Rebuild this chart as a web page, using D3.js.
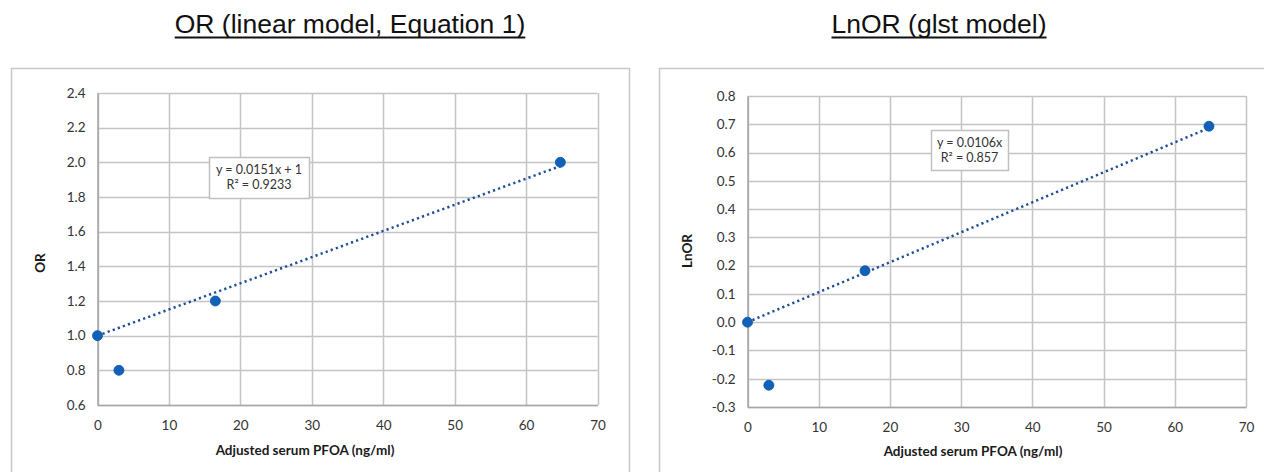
<!DOCTYPE html>
<html>
<head>
<meta charset="utf-8">
<script src="https://cdn.jsdelivr.net/npm/d3@7"></script>
<style>
  html, body { margin: 0; padding: 0; background: #ffffff; }
  svg { display: block; }
</style>
</head>
<body>
<svg id="chart" width="1264" height="472"></svg>
<script>
// ---------- data ----------
const pfoa = [0, 3.0, 16.5, 64.8];
const orValues = [1.0, 0.8, 1.2, 2.0];
const lnorValues = [0.0, -0.223, 0.182, 0.693];

const xTicks = [0, 10, 20, 30, 40, 50, 60, 70];
const orTicks = [0.6, 0.8, 1.0, 1.2, 1.4, 1.6, 1.8, 2.0, 2.2, 2.4];
const lnorTicks = [-0.3, -0.2, -0.1, 0.0, 0.1, 0.2, 0.3, 0.4, 0.5, 0.6, 0.7, 0.8];

const orFit = { slope: 0.0151, intercept: 1 };
const lnorFit = { slope: 0.0106, intercept: 0 };

const titles = ["OR (linear model, Equation 1)", "LnOR (glst model)"];
const yLabels = ["OR", "LnOR"];
const xLabel = "Adjusted serum PFOA (ng/ml)";
const eqTexts = [["y = 0.0151x + 1", "R² = 0.9233"], ["y = 0.0106x", "R² = 0.857"]];

// ---------- drawing ----------
const svg = d3.select("#chart");
const tickFont = "Lato, 'Open Sans', sans-serif";

function drawPanel(cfg) {
  const g = svg.append("g");
  // outer frame
  g.append("rect")
    .attr("x", cfg.frame[0] + 0.5).attr("y", cfg.frame[1] + 0.5)
    .attr("width", cfg.frame[2]).attr("height", cfg.frame[3])
    .attr("fill", "#fff").attr("stroke", "#c8c8c8").attr("stroke-width", 1.5);

  // title
  const t = g.append("text")
    .attr("x", cfg.titleX).attr("y", 33)
    .attr("text-anchor", "middle")
    .attr("font-family", "'Liberation Sans', Arial, sans-serif")
    .attr("font-size", 26.5).attr("fill", "#111")
    .text(cfg.title);
  const bb = t.node().getBBox();
  g.append("line")
    .attr("x1", bb.x).attr("x2", bb.x + bb.width)
    .attr("y1", 37.5).attr("y2", 37.5)
    .attr("stroke", "#111").attr("stroke-width", 2);

  const x = d3.scaleLinear().domain([0, 70]).range([cfg.plot.left, cfg.plot.right]);
  const y = d3.scaleLinear().domain(cfg.yDomain).range([cfg.plot.bottom, cfg.plot.top]);

  // gridlines
  g.append("g").selectAll("line").data(cfg.yTicks).join("line")
    .attr("x1", x(0)).attr("x2", x(70))
    .attr("y1", d => Math.round(y(d)) + 0.5).attr("y2", d => Math.round(y(d)) + 0.5)
    .attr("stroke", "#c4c4c4").attr("stroke-width", 1.5);
  g.append("g").selectAll("line").data(xTicks).join("line")
    .attr("y1", y(cfg.yDomain[0])).attr("y2", y(cfg.yDomain[1]))
    .attr("x1", d => Math.round(x(d)) + 0.5).attr("x2", d => Math.round(x(d)) + 0.5)
    .attr("stroke", "#c4c4c4").attr("stroke-width", 1.5);

  // axes
  const xAxis = d3.axisBottom(x).tickValues(xTicks).tickSize(0).tickPadding(15).tickFormat(d3.format("d"));
  const gx = g.append("g").attr("transform", `translate(0,${y(cfg.yDomain[0])})`).call(xAxis);
  gx.select(".domain").attr("stroke", "#a6a6a6").attr("stroke-width", 1.5);
  gx.selectAll("text").attr("font-family", tickFont).attr("font-size", 13.5).attr("fill", "#333");

  const yAxis = d3.axisLeft(y).tickValues(cfg.yTicks).tickSize(0).tickPadding(12).tickFormat(d3.format(".1f"));
  const gy = g.append("g").attr("transform", `translate(${x(0)},0)`).call(yAxis);
  gy.select(".domain").attr("stroke", "#a6a6a6").attr("stroke-width", 1.5);
  gy.selectAll("text").attr("font-family", tickFont).attr("font-size", 13.5).attr("fill", "#333")
    .text(d => d3.format(".1f")(d).replace("−", "-"));

  // axis titles
  g.append("text")
    .attr("x", cfg.xLabelX).attr("y", cfg.xLabelY)
    .attr("text-anchor", "middle")
    .attr("font-family", tickFont).attr("font-weight", "bold")
    .attr("font-size", 13.5).attr("fill", "#1a1a1a")
    .text(xLabel);
  g.append("text")
    .attr("transform", `translate(${cfg.yLabelX},${cfg.yLabelY}) rotate(-90)`)
    .attr("text-anchor", "middle")
    .attr("font-family", tickFont).attr("font-weight", "bold")
    .attr("font-size", 13.5).attr("fill", "#1a1a1a")
    .text(cfg.yLabel);

  // trendline
  const xs = [0, d3.max(pfoa)];
  g.append("line")
    .attr("x1", x(xs[0])).attr("y1", y(cfg.fit.intercept + cfg.fit.slope * xs[0]))
    .attr("x2", x(xs[1])).attr("y2", y(cfg.fit.intercept + cfg.fit.slope * xs[1]))
    .attr("stroke", "#1f4e99").attr("stroke-width", 2.5)
    .attr("stroke-dasharray", "2.2,3.2");

  // points
  g.append("g").selectAll("circle").data(pfoa.map((v, i) => [v, cfg.values[i]])).join("circle")
    .attr("cx", d => x(d[0])).attr("cy", d => y(d[1])).attr("r", 5)
    .attr("fill", "#1261b8").attr("stroke", "#0b57a8").attr("stroke-width", 0.8);

  // equation box
  const b = cfg.eqBox;
  g.append("rect")
    .attr("x", b[0] + 0.5).attr("y", b[1] + 0.5).attr("width", b[2]).attr("height", b[3])
    .attr("fill", "#fff").attr("stroke", "#c0c0c0").attr("stroke-width", 1.5);
  cfg.eq.forEach((s, i) => {
    g.append("text")
      .attr("x", b[0] + b[2] / 2).attr("y", b[1] + 17 + i * 15)
      .attr("text-anchor", "middle")
      .attr("font-family", tickFont).attr("font-size", 12.5).attr("fill", "#333")
      .text(s);
  });
}

drawPanel({
  frame: [11, 68, 618, 420],
  titleX: 350,
  title: titles[0],
  plot: { left: 97.5, right: 597.5, top: 93, bottom: 405 },
  yDomain: [0.6, 2.4],
  yTicks: orTicks,
  values: orValues,
  fit: orFit,
  eqBox: [209, 157, 100, 41],
  eq: eqTexts[0],
  yLabel: yLabels[0],
  yLabelX: 45,
  yLabelY: 263,
  xLabelX: 305,
  xLabelY: 455
});

drawPanel({
  frame: [659, 68, 620, 420],
  titleX: 939,
  title: titles[1],
  plot: { left: 747.5, right: 1246, top: 96, bottom: 407 },
  yDomain: [-0.3, 0.8],
  yTicks: lnorTicks,
  values: lnorValues,
  fit: lnorFit,
  eqBox: [931, 130, 77, 40],
  eq: eqTexts[1],
  yLabel: yLabels[1],
  yLabelX: 692,
  yLabelY: 251,
  xLabelX: 973,
  xLabelY: 456
});
</script>
</body>
</html>
